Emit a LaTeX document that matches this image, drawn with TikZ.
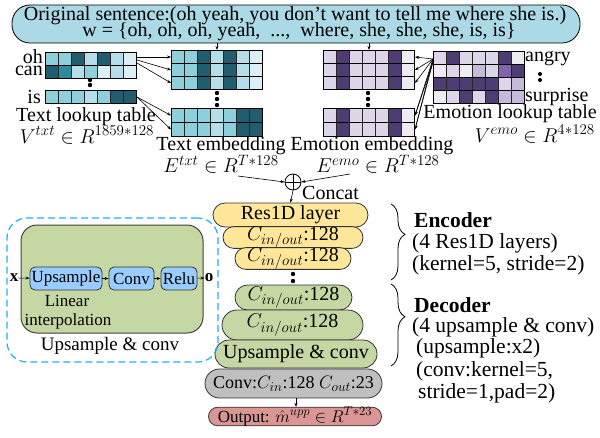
\RequirePackage{fix-cm}
\documentclass[tikz,border=0pt]{standalone}
\usepackage{fontspec}
\setmainfont{Liberation Serif}
\usetikzlibrary{arrows.meta,shapes.misc,decorations.pathreplacing}
\DeclareMathSizes{20}{20}{15}{11}
\DeclareMathSizes{18}{18}{13.5}{10}
\DeclareMathSizes{17}{17}{12.8}{9.5}
\definecolor{tdark}{HTML}{215D6E}
\definecolor{tmidd}{HTML}{2E8B9E}
\definecolor{tmed}{HTML}{8ECFDC}
\definecolor{tlight}{HTML}{B6DEE9}
\definecolor{tvlight}{HTML}{DCEFF5}
\definecolor{pdark}{HTML}{4E3D73}
\definecolor{pmid}{HTML}{7F64AC}
\definecolor{pmedl}{HTML}{C5BBD8}
\definecolor{plight}{HTML}{DCD6E8}
\definecolor{pvlight}{HTML}{EEEBF3}
\definecolor{bannerblue}{HTML}{ABD9E6}
\definecolor{yel}{HTML}{FFE699}
\definecolor{grn}{HTML}{C5D7A2}
\definecolor{gry}{HTML}{BFBFBF}
\definecolor{redp}{HTML}{D99694}
\definecolor{bbox}{HTML}{99CCFF}
\definecolor{dashblue}{HTML}{1AB2EE}
\newcommand\mrow[5]{%
  \foreach \cc [count=\ii from 0] in {#4} {%
    \filldraw[fill=\cc, draw=black!85, line width=0.6pt] ({#2+13*\ii},#3) rectangle ({#2+13*\ii+13},{#3+#5});}
  \node[draw, line width=1pt, inner sep=0, minimum width=91pt, minimum height=#5pt, anchor=north west] (#1) at (#2,#3) {};
}
\begin{document}
\begin{tikzpicture}[x=1pt,y=-1pt,
  t20/.style={inner sep=0, font=\fontsize{20}{20}\selectfont},
  t17/.style={inner sep=0, font=\fontsize{17}{17}\selectfont},
  tr/.style={inner sep=0, anchor=west, font=\fontsize{21.5}{21.5}\selectfont},
  arr/.style={-{Stealth[length=4pt,width=3pt]}, line width=0.6pt},
  pill/.style={rounded rectangle, draw=black!80, line width=0.8pt, inner sep=0, font=\fontsize{20}{20}\selectfont},
  bluebx/.style={draw=black!80, line width=0.8pt, fill=bbox, rounded corners=5pt, inner sep=0, minimum height=23pt, font=\fontsize{17}{17}\selectfont},
  dotm/.style={fill=black}
]
\useasboundingbox (0,0) rectangle (600,437);

% banner
\node[draw, line width=0.8pt, fill=bannerblue, rounded corners=18pt, minimum width=568pt, minimum height=38pt, inner sep=0] (banner) at (296,24) {};
\node[t20] (line1) at (295,16) {Original sentence:(oh yeah, you don't want to tell me where she is.)};
\node[t20] (line2) at (299,32) {w = \{oh, oh, oh, yeah, \ ..., \ where, she, she, she, is, is\}};

% text lookup table
\mrow{oh}{45}{52}{tmed,tmed,tdark,tlight,tdark,tlight,tvlight}{13}
\mrow{can}{45}{65}{tdark,tmidd,tlight,tmed,tvlight,tlight,tvlight}{13}
\mrow{is}{45}{90}{tmed,tmed,tmed,tlight,tmed,tdark,tdark}{13}
\fill[dotm] (90,80) circle (2.2); \fill[dotm] (90,85) circle (2.2);
\node[t20, anchor=east] (lbloh) at (43,57) {oh};
\node[t20, anchor=east] (lblcan) at (43,71) {can};
\node[t20, anchor=east] (lblis) at (41,97) {is};
\node[t20] (tlt) at (86,117) {Text lookup table};
\node[t20] (vtxt) at (87,135) {$V^{txt}\in R^{1859*128}$};

% text embedding
\mrow{te1}{171}{50}{tmed,tmed,tdark,tlight,tdark,tlight,tvlight}{13}
\mrow{te2}{171}{63}{tmed,tmed,tdark,tlight,tdark,tlight,tvlight}{13}
\mrow{te3}{171}{76}{tmed,tmed,tdark,tlight,tdark,tlight,tvlight}{13}
\mrow{te4}{171}{108}{tmed,tmed,tmed,tlight,tmed,tdark,tdark}{14}
\mrow{te5}{171}{122}{tmed,tmed,tmed,tlight,tmed,tdark,tdark}{14}
\fill[dotm] (217,93) circle (2.2); \fill[dotm] (217,99) circle (2.2); \fill[dotm] (217,105) circle (2.2);
\node[t20] (tet) at (221,146) {Text embedding};
\node[t20] (etxt) at (221,164) {$E^{txt}\in R^{T*128}$};

% emotion embedding
\mrow{ee1}{323}{50}{plight,pdark,plight,plight,plight,pdark,pvlight}{13}
\mrow{ee2}{323}{63}{plight,pdark,plight,plight,plight,pdark,pvlight}{13}
\mrow{ee3}{323}{76}{plight,pdark,plight,plight,plight,pdark,pvlight}{13}
\mrow{ee4}{323}{108}{plight,pdark,plight,plight,plight,pdark,pvlight}{14}
\mrow{ee5}{323}{122}{plight,pdark,plight,plight,plight,pdark,pvlight}{14}
\fill[dotm] (368,93) circle (2.2); \fill[dotm] (368,99) circle (2.2); \fill[dotm] (368,105) circle (2.2);
\node[t20] (eet) at (372,146) {Emotion embedding};
\node[t20] (eemo) at (378,164) {$E^{emo}\in R^{T*128}$};

% emotion lookup table
\mrow{el1}{433}{51}{plight,pdark,plight,plight,plight,pdark,pvlight}{13}
\mrow{el2}{433}{64}{pvlight,plight,pvlight,pmedl,plight,pmid,pdark}{13}
\mrow{el3}{433}{77}{pdark,pdark,pdark,pdark,pdark,plight,pmedl}{13}
\mrow{el4}{433}{90}{pvlight,plight,pdark,plight,pdark,pmedl,pmedl}{13}
\node[t20, anchor=west] (angry) at (525,59) {angry};
\fill[dotm] (540,74) circle (2); \fill[dotm] (540,80) circle (2);
\node[t20, anchor=west] (surprise) at (525,97) {surprise};
\node[t20, anchor=east] (elt) at (597,114) {Emotion lookup table};
\node[t20, anchor=east] (vemo) at (595,134) {$V^{emo}\in R^{4*128}$};

% arrows top
\draw[arr] (banner.south -| te1.north) -- (te1.north);
\draw[arr] (banner.south -| ee1.north) -- (ee1.north);
\draw[arr] ([yshift=2pt]oh.east) -- (te1.west);
\draw[arr] ([yshift=-1pt]oh.east) -- (te2.west);
\draw[arr] ([yshift=-4pt]oh.east) -- (te3.west);
\draw[arr] (is.east) -- (te4.west);
\draw[arr] (is.east) -- (te5.west);
\draw[arr] ([yshift=-1pt]el1.west) -- (ee1.east);
\draw[arr] ([yshift=-1pt]el1.west) -- (ee2.east);
\draw[arr] ([yshift=-1pt]el1.west) -- (ee3.east);
\draw[arr] ([yshift=-1pt]el1.west) -- (ee4.east);
\draw[arr] ([yshift=-1pt]el1.west) -- (ee5.east);
\draw[arr] ([yshift=-4pt]el1.west) -- (ee4.east);
\draw[arr] ([yshift=-4pt]el1.west) -- (ee5.east);

% concat
\node[circle, draw, line width=0.8pt, minimum size=16pt, inner sep=0] (cat) at (293,182) {};
\draw[line width=0.8pt] (cat.north) -- (cat.south) (cat.west) -- (cat.east);
\node[t20, anchor=west] (concat) at (302,193) {Concat};
\coordinate (ct1) at (238,176);
\coordinate (ct2) at (350,174);
\draw[arr] (ct1) -- (cat.west);
\draw[arr] (ct2) -- (cat.east);

% encoder pills
\node[pill, fill=yel, minimum width=155pt, minimum height=24pt] (res) at (290.5,215) {Res1D layer};
\node[pill, fill=yel, minimum width=140pt, minimum height=20pt] (c1) at (293,237.5) {$C_{in/out}$:128};
\node[pill, fill=yel, minimum width=116pt, minimum height=20pt] (c2) at (293,258.5) {$C_{in/out}$:128};
\draw[arr] (cat.south) -- (res.north);
\fill[dotm] (293,274) circle (2.2); \fill[dotm] (293,281) circle (2.2);

% decoder pills
\node[pill, fill=grn, minimum width=117pt, minimum height=25pt] (g1) at (293.5,297.5) {$C_{in/out}$:128};
\node[pill, fill=grn, minimum width=141pt, minimum height=30pt] (g2) at (292.5,325) {$C_{in/out}$:128};
\node[pill, fill=grn, minimum width=162pt, minimum height=28pt] (g3) at (296,354) {Upsample \& conv};
\node[pill, fill=gry, minimum width=177pt, minimum height=29pt, font=\fontsize{18}{18}\selectfont] (gr) at (293.5,383.5) {Conv:$C_{in}$:128 $C_{out}$:23};
\node[pill, fill=redp, minimum width=164pt, minimum height=17pt, font=\fontsize{17}{17}\selectfont] (outp) at (295,416.5) {Output: $\hat{m}^{upp}\in R^{T*23}$};
\draw[arr] (gr.south -| 296,0) -- (outp.north -| 296,0);

% braces
\draw[line width=0.8pt, decorate, decoration={brace, amplitude=14pt, aspect=0.4}] (391,204) -- (391,280);
\draw[line width=0.8pt, decorate, decoration={brace, amplitude=14pt, aspect=0.4}] (391,284) -- (391,366);
\node[tr, font=\fontsize{21.5}{21.5}\selectfont\bfseries] (enc) at (414,220) {Encoder};
\node[tr] (enc1) at (412,243) {(4 Res1D layers)};
\node[tr] (enc2) at (412,265) {(kernel=5, stride=2)};
\node[tr, font=\fontsize{21.5}{21.5}\selectfont\bfseries] (dec) at (414,305) {Decoder};
\node[tr] (dec1) at (412,327) {(4 upsample \& conv)};
\node[tr] (dec2) at (416,348) {(upsample:x2)};
\node[tr] (dec3) at (416,371) {(conv:kernel=5,};
\node[tr] (dec4) at (418,393) {stride=1,pad=2)};

% left detail box
\node[draw=dashblue, dashed, dash pattern=on 7pt off 4pt, line width=1.2pt, rounded corners=20pt, minimum width=211pt, minimum height=144pt, inner sep=0] (dbox) at (112.5,290) {};
\node[draw=black!75, line width=1pt, fill=grn, rounded corners=16pt, minimum width=182pt, minimum height=108pt, inner sep=0] (gbox) at (112,279) {};
\node[bluebx, minimum width=72pt] (ups) at (66,278.5) {Upsample};
\node[bluebx, minimum width=45pt] (conv) at (131.5,278.5) {Conv};
\node[bluebx, minimum width=36pt] (relu) at (179,278.5) {Relu};
\node[t17, font=\fontsize{17}{17}\selectfont\bfseries] (xin) at (14,278) {x};
\node[t17, font=\fontsize{17}{17}\selectfont\bfseries] (oout) at (209,278) {o};
\draw[arr] (xin) -- (ups);
\draw[arr] (ups) -- (conv);
\draw[arr] (conv) -- (relu);
\draw[arr] (relu) -- (oout);
\node[t17] (lin1) at (67,301) {Linear};
\node[t17] (lin2) at (68,321) {interpolation};
\node[inner sep=0, font=\fontsize{19}{19}\selectfont] (upc) at (110,346) {Upsample \& conv};
\end{tikzpicture}
\end{document}
